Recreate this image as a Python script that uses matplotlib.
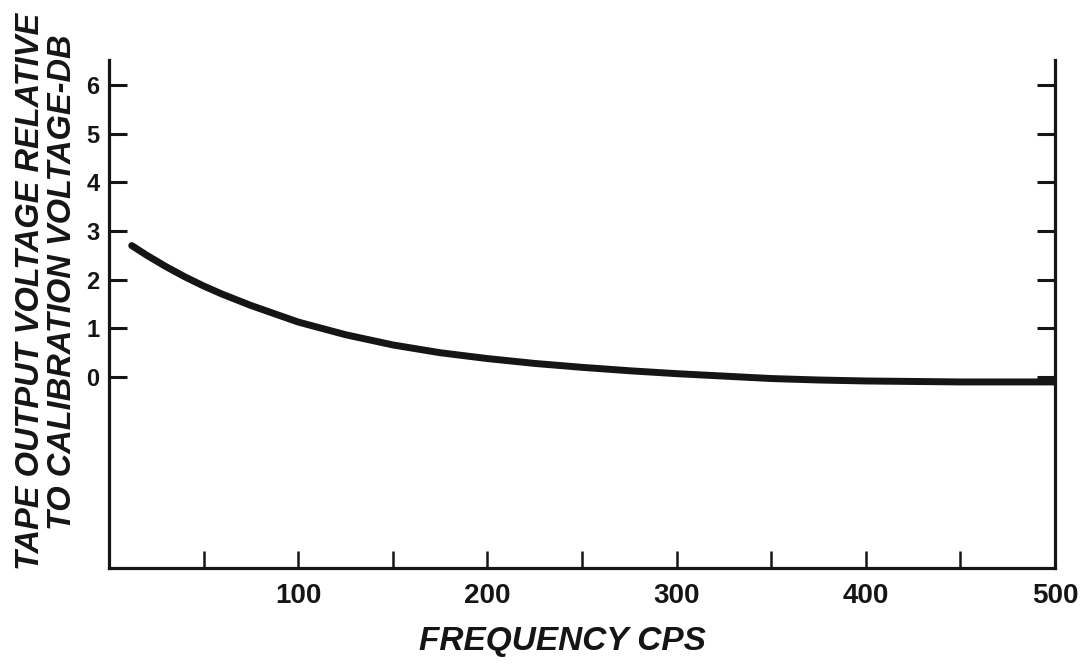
import matplotlib
matplotlib.use("Agg")
import matplotlib.pyplot as plt

# values
freq = [12, 20, 30, 40, 50, 60, 75, 100, 125, 150, 175, 200, 225, 250, 275, 300,
        325, 350, 375, 400, 450, 500]
db = [2.70, 2.50, 2.27, 2.06, 1.87, 1.70, 1.47, 1.13, 0.87, 0.66, 0.50, 0.38, 0.28,
      0.20, 0.13, 0.07, 0.02, -0.03, -0.06, -0.08, -0.10, -0.10]

y_ticks = [0, 1, 2, 3, 4, 5, 6]
x_major = [100, 200, 300, 400, 500]
x_minor = [50, 150, 250, 350, 450]

ylabel_lines = ["TAPE OUTPUT VOLTAGE RELATIVE", "TO CALIBRATION VOLTAGE-DB"]
xlabel_text = "FREQUENCY CPS"

plt.rcParams['font.family'] = ['Liberation Sans', 'DejaVu Sans']
ink = '#151515'

fig = plt.figure(figsize=(10.91, 6.70), dpi=100)
ax = fig.add_axes([109 / 1091, 1 - 568 / 670, (1055 - 109) / 1091, (568 - 60) / 670])

ax.plot(freq, db, color=ink, lw=5, solid_capstyle='round', solid_joinstyle='round')

ax.set_xlim(0, 500)
ax.set_ylim(-3.92, 6.51)

ax.spines['top'].set_visible(False)
for s in ['left', 'right', 'bottom']:
    ax.spines[s].set_linewidth(2.3)
    ax.spines[s].set_color(ink)

ax.set_yticks(y_ticks)
ax.set_yticklabels([str(v) for v in y_ticks], fontsize=17, fontweight='bold')
ax.tick_params(axis='y', which='both', direction='in', length=13, width=2.2,
               color=ink, labelcolor=ink, pad=7, left=True, right=True)

ax.set_xticks(x_major)
ax.set_xticklabels([str(v) for v in x_major], fontsize=20, fontweight='bold')
ax.set_xticks(x_minor, minor=True)
ax.tick_params(axis='x', which='both', direction='in', length=12, width=1.8,
               color=ink, labelcolor=ink, pad=11)

# two-line y label, drawn line by line
fig.text(31 / 1091, 1 - 291 / 670, ylabel_lines[0], rotation=90, ha='center', va='center',
         fontsize=23.5, fontweight='bold', fontstyle='italic', color=ink)
fig.text(63 / 1091, 1 - 282 / 670, ylabel_lines[1], rotation=90, ha='center', va='center',
         fontsize=23.5, fontweight='bold', fontstyle='italic', color=ink)
fig.text(562 / 1091, 1 - 650 / 670, xlabel_text, ha='center', va='baseline',
         fontsize=24, fontweight='bold', fontstyle='italic', color=ink)

fig.savefig('out.png', dpi=100, facecolor='white')
